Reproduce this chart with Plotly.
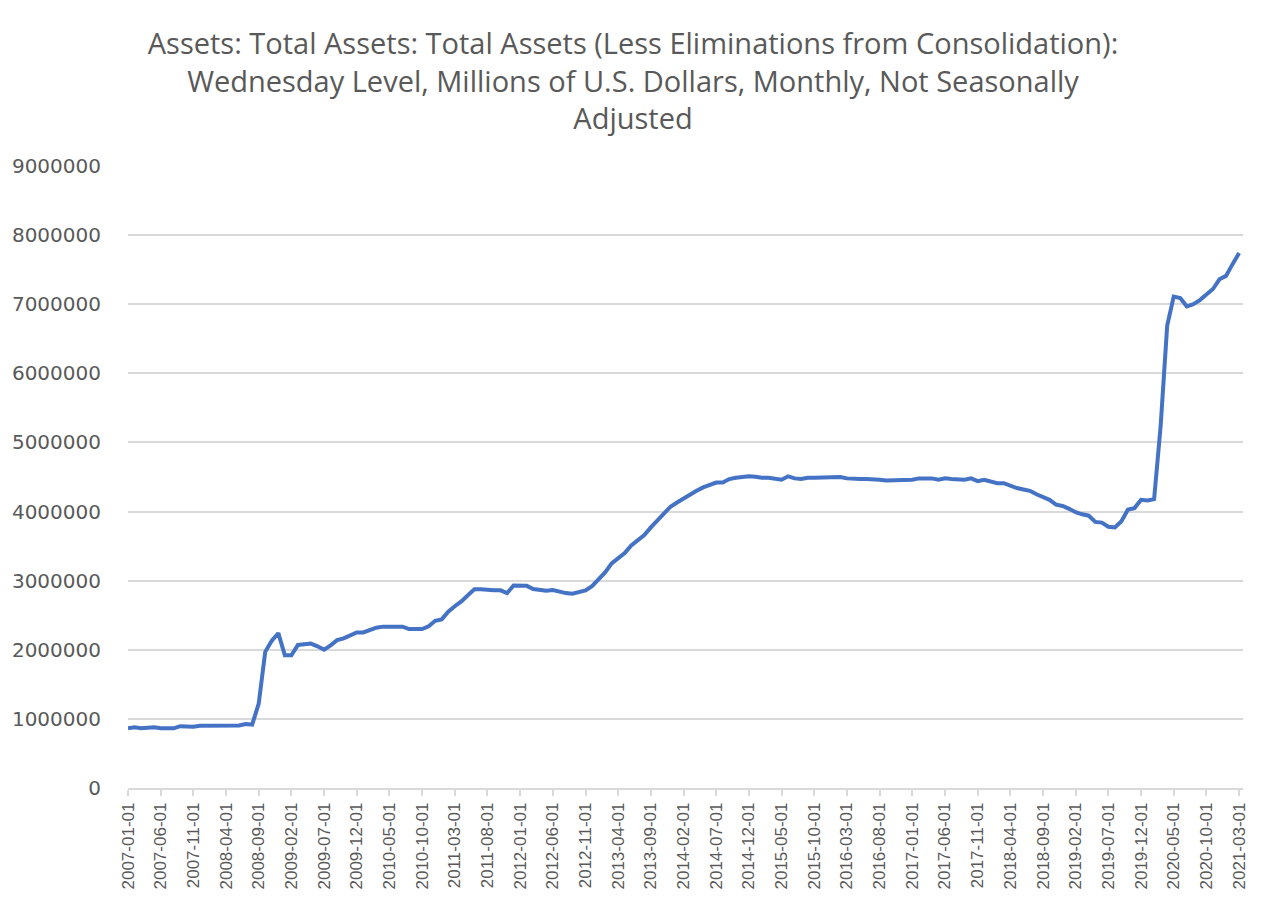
import pandas as pd
import plotly.graph_objects as go

# Monthly dates 2007-01 .. 2021-03
dates = [d.strftime("%Y-%m-%d") for d in pd.date_range("2007-01-01", "2021-03-01", freq="MS")]

# Total assets, millions of U.S. dollars
values = [
    865000, 878000, 864000, 878000, 878000, 866000, 862000, 864000, 895000, 887000, 887000, 900000,   # 2007
    900000, 900000, 902000, 900000, 912000, 905000, 925000, 918000, 1222000, 1970000, 2130000, 2240000,  # 2008
    1920000, 1920000, 2070000, 2080000, 2090000, 2050000, 2000000, 2065000, 2140000, 2165000, 2200000, 2250000,  # 2009
    2250000, 2285000, 2320000, 2335000, 2335000, 2335000, 2335000, 2300000, 2300000, 2300000, 2340000, 2420000,  # 2010
    2440000, 2550000, 2630000, 2700000, 2790000, 2875000, 2875000, 2865000, 2860000, 2860000, 2820000, 2930000,  # 2011
    2930000, 2925000, 2880000, 2870000, 2855000, 2865000, 2840000, 2820000, 2810000, 2830000, 2860000, 2920000,  # 2012
    3020000, 3120000, 3250000, 3330000, 3400000, 3510000, 3590000, 3660000, 3770000, 3870000, 3980000, 4070000,  # 2013
    4130000, 4190000, 4250000, 4300000, 4350000, 4390000, 4420000, 4420000, 4470000, 4490000, 4505000, 4510000,  # 2014
    4505000, 4490000, 4490000, 4470000, 4460000, 4510000, 4480000, 4470000, 4490000, 4490000, 4490000, 4490000,  # 2015
    4490000, 4500000, 4480000, 4470000, 4470000, 4470000, 4470000, 4460000, 4450000, 4450000, 4450000, 4450000,  # 2016
    4460000, 4480000, 4480000, 4480000, 4460000, 4480000, 4470000, 4470000, 4460000, 4480000, 4440000, 4460000,  # 2017
    4430000, 4410000, 4410000, 4370000, 4340000, 4320000, 4300000, 4250000, 4210000, 4170000, 4100000, 4080000,  # 2018
    4040000, 3990000, 3960000, 3940000, 3850000, 3840000, 3780000, 3770000, 3860000, 4030000, 4050000, 4170000,  # 2019
    4160000, 4180000, 5240000, 6690000, 7110000, 7090000, 6970000, 7000000, 7060000, 7140000, 7220000, 7360000,  # 2020
    7410000, 7580000, 7740000,  # 2021
]
assert len(values) == len(dates)

tick_labels = dates[::5]
y_ticks = [0, 1000000, 2000000, 3000000, 4000000, 5000000, 6000000, 7000000, 8000000, 9000000]

title_text = ("Assets: Total Assets: Total Assets (Less Eliminations from Consolidation):<br>"
              "Wednesday Level, Millions of U.S. Dollars, Monthly, Not Seasonally<br>Adjusted")

W, H = 1258, 893  # page body has an 8px margin

fig = go.Figure()
fig.add_trace(go.Scatter(
    x=dates, y=values, mode="lines",
    line=dict(color="#4472C4", width=4),
    hoverinfo="x+y",
))

fig.update_layout(
    width=W, height=H,
    paper_bgcolor="white", plot_bgcolor="white",
    margin=dict(l=120, r=23, t=158, b=113),
    showlegend=False,
    title=dict(
        text=title_text,
        x=(633 - 8) / W, xanchor="center",
        y=1 - 46 / H, yref="container", yanchor="top",
        font=dict(family="Open Sans", size=29, color="#595959"),
    ),
    xaxis=dict(
        type="category",
        range=[0, len(dates) - 1 + 0.6],
        tickmode="array", tickvals=tick_labels, ticktext=tick_labels,
        tickangle=-90,
        ticks="outside", ticklen=6, tickcolor="#d9d9d9", tickwidth=1.5,
        showline=True, linecolor="#d9d9d9", linewidth=1.5,
        showgrid=False, zeroline=False, automargin=False,
        tickfont=dict(family="Liberation Sans", size=17, color="#595959"),
    ),
    yaxis=dict(
        range=[0, 9000000],
        tickmode="array", tickvals=y_ticks, ticktext=[str(v) for v in y_ticks],
        showgrid=True, gridcolor="#d9d9d9", gridwidth=1.5,
        zeroline=False, showline=False, automargin=False,
        ticks="", ticklabelstandoff=26,
        tickfont=dict(family="DejaVu Sans", size=20, color="#595959"),
    ),
)

fig.write_html("out.html")
